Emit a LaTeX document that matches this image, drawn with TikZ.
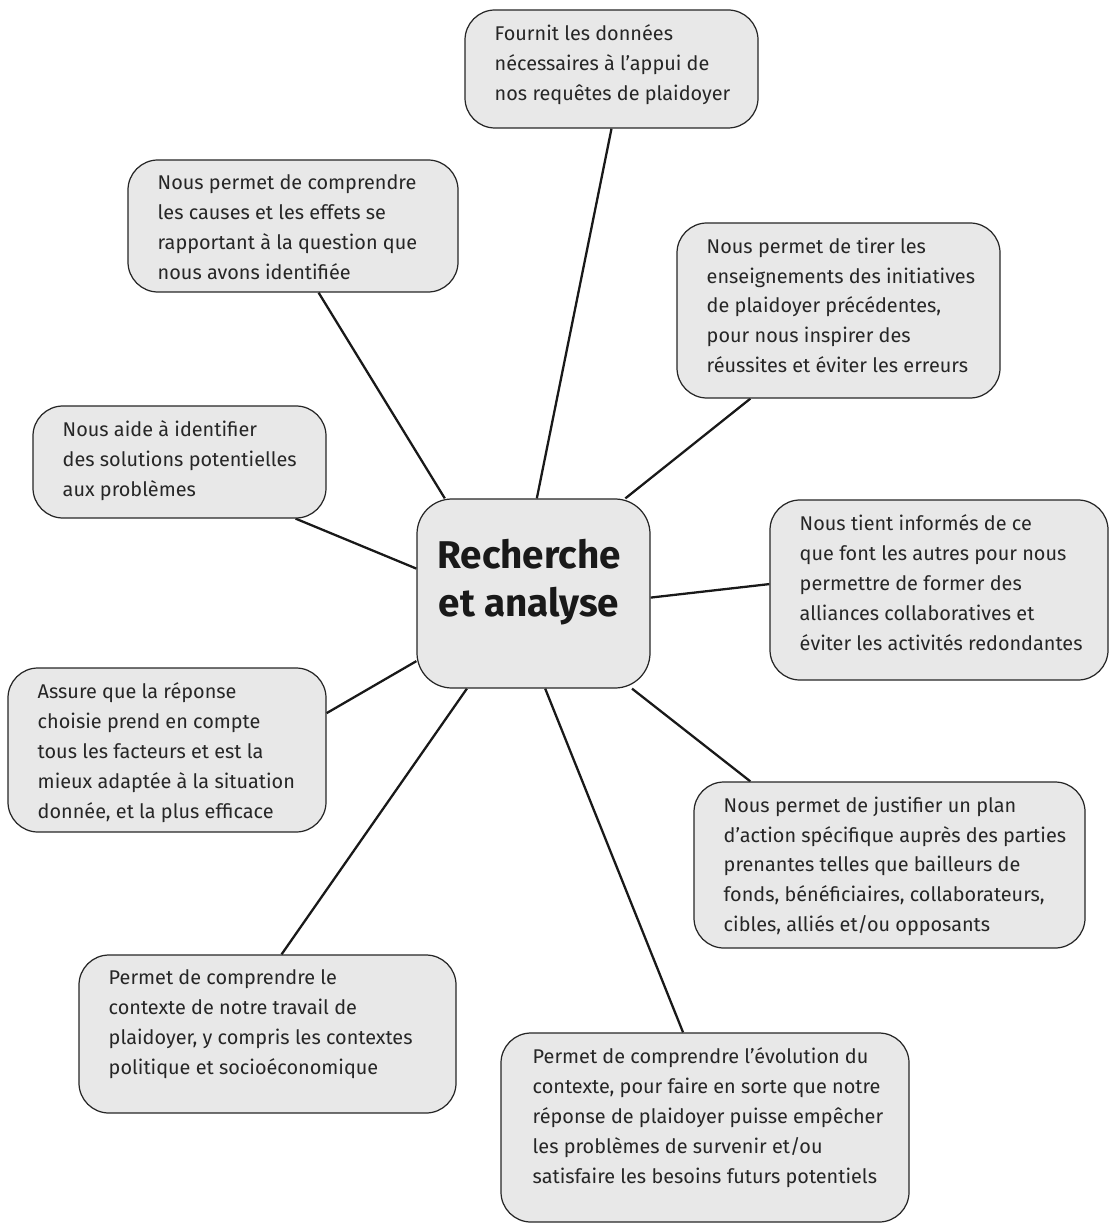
\documentclass[tikz,border=0pt]{standalone}
\usepackage{fontspec}
\setmainfont{Fira Sans}
\usetikzlibrary{backgrounds}

\begin{document}
\begin{tikzpicture}[x=0.2mm,y=-0.2mm,
  bulle/.style={draw=black!85,line width=0.7pt,fill=black!9,rounded corners=6mm,inner sep=0pt},
  texte/.style={anchor=north west,inner sep=0pt,align=left,text=black!85,
    font=\fontsize{11.3}{17}\selectfont},
  lien/.style={line width=1.3pt,draw=black!90}]
\useasboundingbox (0,0) rectangle (1109,1229);
% centre
\node[bulle,rounded corners=7mm,minimum width=46.6mm,minimum height=37.8mm] (centre) at (533.5,593.5) {};
\node[inner sep=0pt,align=center,text=black!90,font=\fontsize{22}{27}\selectfont\bfseries] (titre) at (529,582) {Recherche\\et analyse};
% boites
\node[bulle,minimum width=58.6mm,minimum height=23.6mm] (donnees) at (611.5,69) {};
\node[texte] (donnees t) at ([shift={(30,15)}]donnees.north west) {Fournit les données\\nécessaires à l’appui de\\nos requêtes de plaidoyer};
\node[bulle,minimum width=66mm,minimum height=26.4mm] (causes) at (293,226) {};
\node[texte] (causes t) at ([shift={(30,15)}]causes.north west) {Nous permet de comprendre\\les causes et les effets se\\rapportant à la question que\\nous avons identifiée};
\node[bulle,minimum width=64.6mm,minimum height=35mm] (lecons) at (838.5,310.5) {};
\node[texte] (lecons t) at ([shift={(30,15)}]lecons.north west) {Nous permet de tirer les\\enseignements des initiatives\\de plaidoyer précédentes,\\pour nous inspirer des\\réussites et éviter les erreurs};
\node[bulle,minimum width=58.6mm,minimum height=22.4mm] (solutions) at (179.5,462) {};
\node[texte] (solutions t) at ([shift={(30,15)}]solutions.north west) {Nous aide à identifier\\ des solutions potentielles\\aux problèmes};
\node[bulle,minimum width=67.6mm,minimum height=36mm] (alliances) at (939,590) {};
\node[texte] (alliances t) at ([shift={(30,15)}]alliances.north west) {Nous tient informés de ce\\que font les autres pour nous\\permettre de former des\\alliances collaboratives et\\éviter les activités redondantes};
\node[bulle,minimum width=63.6mm,minimum height=32.8mm] (reponse) at (167,750) {};
\node[texte] (reponse t) at ([shift={(30,15)}]reponse.north west) {Assure que la réponse\\choisie prend en compte\\tous les facteurs et est la\\mieux adaptée à la situation\\donnée, et la plus efficace};
\node[bulle,minimum width=78.2mm,minimum height=33.2mm] (justifier) at (889.5,865) {};
\node[texte] (justifier t) at ([shift={(30,15)}]justifier.north west) {Nous permet de justifier un plan\\d’action spécifique auprès des parties\\prenantes telles que bailleurs de\\fonds, bénéficiaires, collaborateurs,\\cibles, alliés et/ou opposants};
\node[bulle,minimum width=75.4mm,minimum height=31.6mm] (contexte) at (267.5,1034) {};
\node[texte] (contexte t) at ([shift={(30,15)}]contexte.north west) {Permet de comprendre le\\contexte de notre travail de\\plaidoyer, y compris les contextes\\politique et socioéconomique};
\node[bulle,minimum width=81.6mm,minimum height=37.8mm] (evolution) at (705,1127.5) {};
\node[texte] (evolution t) at ([shift={(32,15)}]evolution.north west) {Permet de comprendre l’évolution du\\contexte, pour faire en sorte que notre\\réponse de plaidoyer puisse empêcher\\les problèmes de survenir et/ou\\satisfaire les besoins futurs potentiels};
% liens
\begin{scope}[on background layer]
\draw[lien] (centre.88) -- (donnees.south);
\draw[lien] (centre.133) -- (causes.291);
\draw[lien] (centre.46) -- (lecons.225);
\draw[lien] (centre.168) -- (solutions.334.5);
\draw[lien] (centre.-2) -- (alliances.178);
\draw[lien] (centre.210) -- (reponse.13);
\draw[lien] (centre.316) -- (justifier.149);
\draw[lien] (centre.235) -- (contexte.80);
\draw[lien] (centre.277) -- (evolution.103);
\end{scope}
\end{tikzpicture}
\end{document}
